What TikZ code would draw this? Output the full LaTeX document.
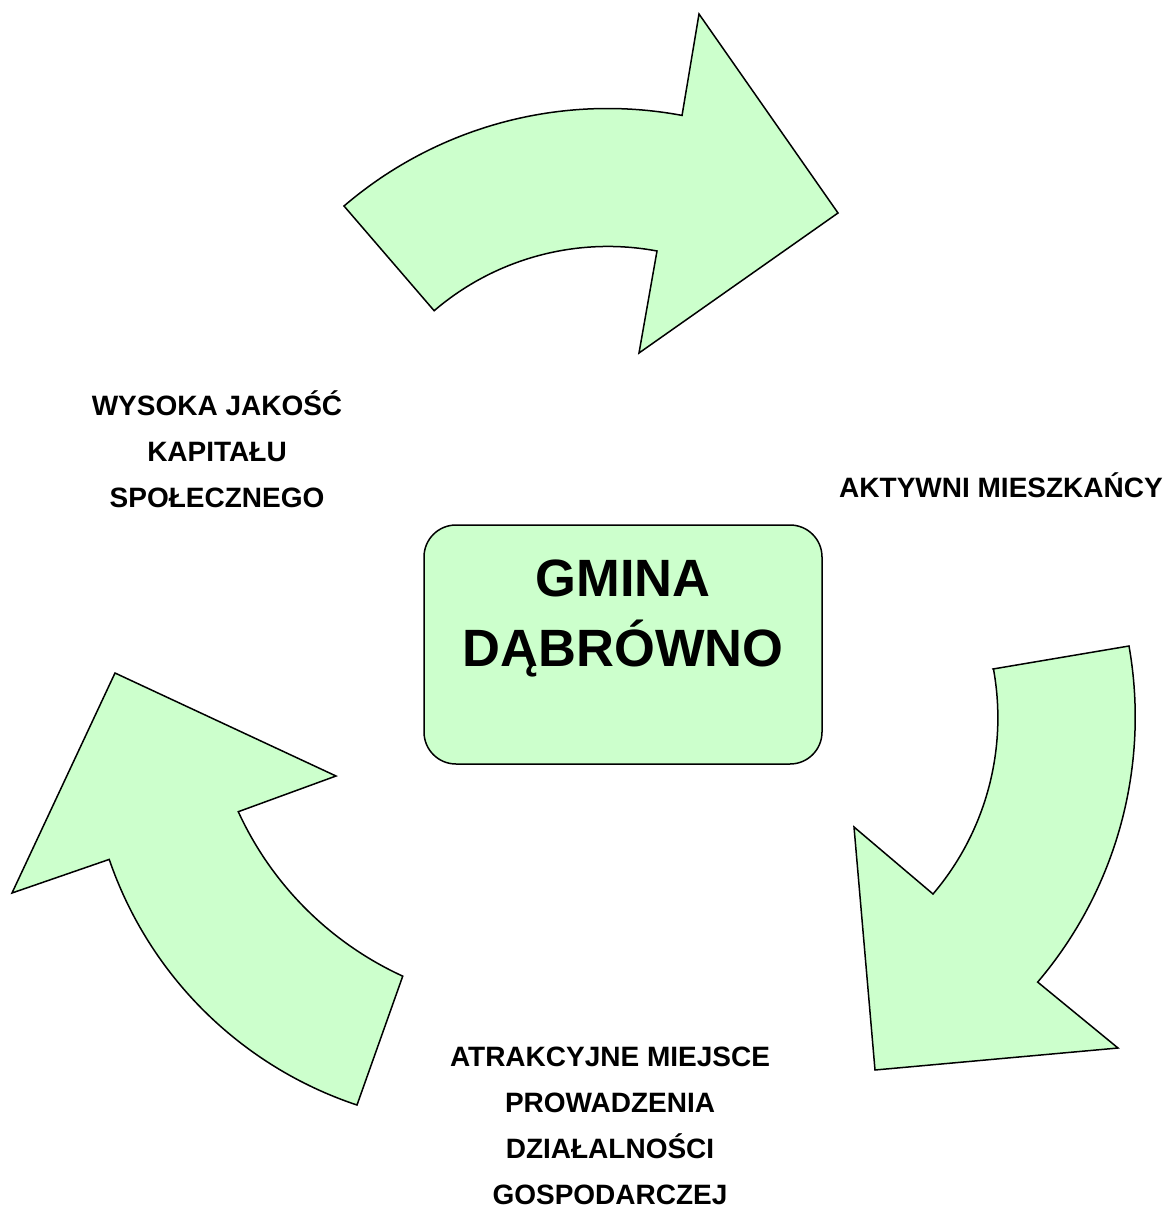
\documentclass[tikz,border=0pt]{standalone}
\usepackage{fontspec}
\setmainfont{Liberation Sans}
\definecolor{arrowgreen}{HTML}{CCFFCC}
\begin{document}
\begin{tikzpicture}[x=1pt,y=-1pt,
  arrowshape/.style={fill=arrowgreen, draw=black, line width=1.5pt, line join=miter},
  lbl/.style={font=\bfseries\fontsize{28}{46}\selectfont, align=center, inner sep=0pt},
  centerbox/.style={draw=black, fill=arrowgreen, line width=1.5pt, rounded corners=32pt,
    minimum width=398pt, minimum height=239pt, inner sep=0pt},
  titletext/.style={font=\bfseries\fontsize{52.5}{70}\selectfont, align=center, inner sep=0pt}]
\useasboundingbox (0,0) rectangle (1166,1209);
% top arrow
\draw[arrowshape] (344,206) arc[start angle=-130.6, end angle=-79.4, radius=405]
  -- (699,14) -- (838,213) -- (639,353) -- (657,251)
  arc[start angle=-79.4, end angle=-130.6, radius=267] -- cycle;
% right arrow
\draw[arrowshape] (993,669) -- (1129,646)
  arc[start angle=-10, end angle=40.4, radius=409]
  -- (1118,1048) -- (875,1070) -- (854,827) -- (933,894)
  arc[start angle=40.4, end angle=-10.1, radius=272] -- cycle;
% left arrow
\draw[arrowshape] (115,673) -- (336,776) -- (238.3,811.7)
  arc[start angle=155.4, end angle=114.6, radius=333.6]
  -- (357,1105)
  arc[start angle=108.4, end angle=161.1, radius=393]
  -- (12,893) -- cycle;
% centre
\node[centerbox] (box) at (623,644.5) {};
\node[titletext] (title) at (623,618) {GMINA\\DĄBRÓWNO};
% labels
\node[lbl] (kapital) at (217,449) {WYSOKA JAKOŚĆ\\KAPITAŁU\\SPOŁECZNEGO};
\node[lbl] (mieszk) at (1001,485) {AKTYWNI MIESZKAŃCY};
\node[lbl] (miejsce) at (610,1126) {ATRAKCYJNE MIEJSCE\\PROWADZENIA\\DZIAŁALNOŚCI\\GOSPODARCZEJ};
\end{tikzpicture}
\end{document}
